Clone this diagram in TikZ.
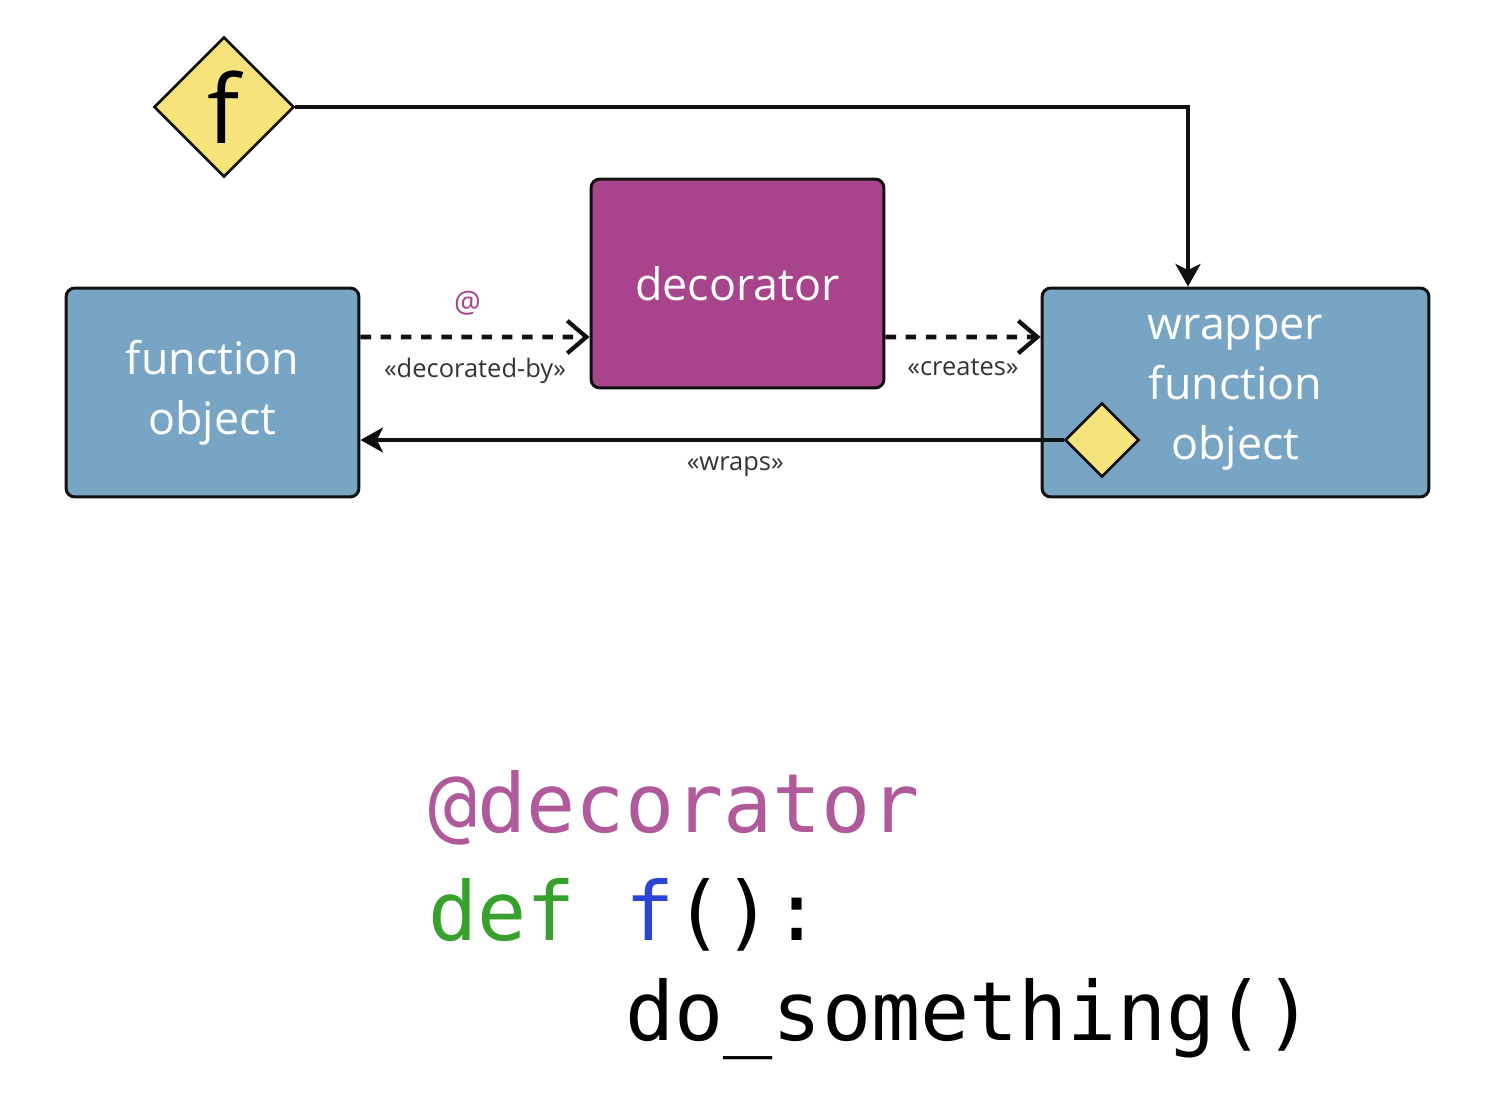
\documentclass[tikz,border=0pt]{standalone}
\usepackage{fontspec}
\setmainfont{Open Sans}
\newfontfamily\codefont{DejaVu Sans Mono}
\usetikzlibrary{shapes.geometric,arrows.meta,positioning}
\definecolor{objblue}{HTML}{77A5C3}
\definecolor{decomagenta}{HTML}{A8448C}
\definecolor{slotyellow}{HTML}{F6E37A}
\definecolor{codemagenta}{HTML}{B0599B}
\definecolor{codegreen}{HTML}{38A02C}
\definecolor{codeblue}{HTML}{2B45D6}
\definecolor{edgedark}{HTML}{111111}

\begin{document}
\begin{tikzpicture}[
    x=0.02cm, y=-0.02cm,
    objbox/.style={rectangle, draw=edgedark, line width=1.7pt, fill=objblue, rounded corners=5pt, minimum height=4.18cm, align=center, text=white, font=\fontsize{25.5}{34}\selectfont},
    decobox/.style={objbox, fill=decomagenta},
    slot/.style={diamond, draw=edgedark, line width=1.5pt, fill=slotyellow, inner sep=0pt},
    flow/.style={-{Stealth[length=0.45cm, width=0.5cm, inset=0.12cm]}, line width=2.1pt, color=edgedark},
    dashflow/.style={-{Straight Barb[length=0.38cm, width=0.65cm, line width=2.4pt]}, line width=2.7pt, dash pattern=on 6pt off 5.5pt, color=edgedark},
    stereo/.style={font=\fontsize{14.5}{16}\selectfont, text=black!80},
    codeline/.style={anchor=base west, inner sep=0pt, font=\codefont\fontsize{46.5}{50}\selectfont}
]
  \useasboundingbox (0,0) rectangle (1488,1094);

  % objects
  \node[objbox, minimum width=5.86cm] (fn) at (212.5,392.5) {function\\object};
  \node[decobox, minimum width=5.86cm] (deco) at (737.5,283.5) {decorator};
  \node[objbox, minimum width=7.74cm] (wrap) at (1235.5,392.5) {wrapper\\function\\object};

  % function slots
  \node[slot, minimum width=2.8cm, minimum height=2.8cm, font=\fontsize{54}{54}\selectfont] (fdia) at (224,107) {f};
  \node[slot, minimum width=1.48cm, minimum height=1.48cm] (wdia) at (1102,440) {};

  % connectors
  \draw[flow] (fdia.east) -| ([xshift=-0.95cm]wrap.north);
  \draw[dashflow] ([yshift=1.11cm]fn.east) -- node[above=0.28cm, xshift=-0.15cm, text=decomagenta, font=\fontsize{17}{17}\selectfont] {@} node[below=0.26cm, stereo] {«decorated-by»} ([yshift=-1.07cm]deco.west);
  \draw[dashflow] ([yshift=-1.07cm]deco.east) -- node[below=0.26cm, stereo] {«creates»} ([yshift=1.11cm]wrap.west);
  \draw[flow] (wdia.west) -- node[pos=0.467, below=0.18cm, stereo] {«wraps»} (fn.east |- wdia);

  % code sample
  \node[codeline, text=codemagenta] (c1) at (428,832) {@decorator};
  \node[codeline] (c2) at (428,940) {\textcolor{codegreen}{def} \textcolor{codeblue}{f}():};
  \node[codeline] (c3) at (625,1040) {do\_something()};
\end{tikzpicture}
\end{document}
